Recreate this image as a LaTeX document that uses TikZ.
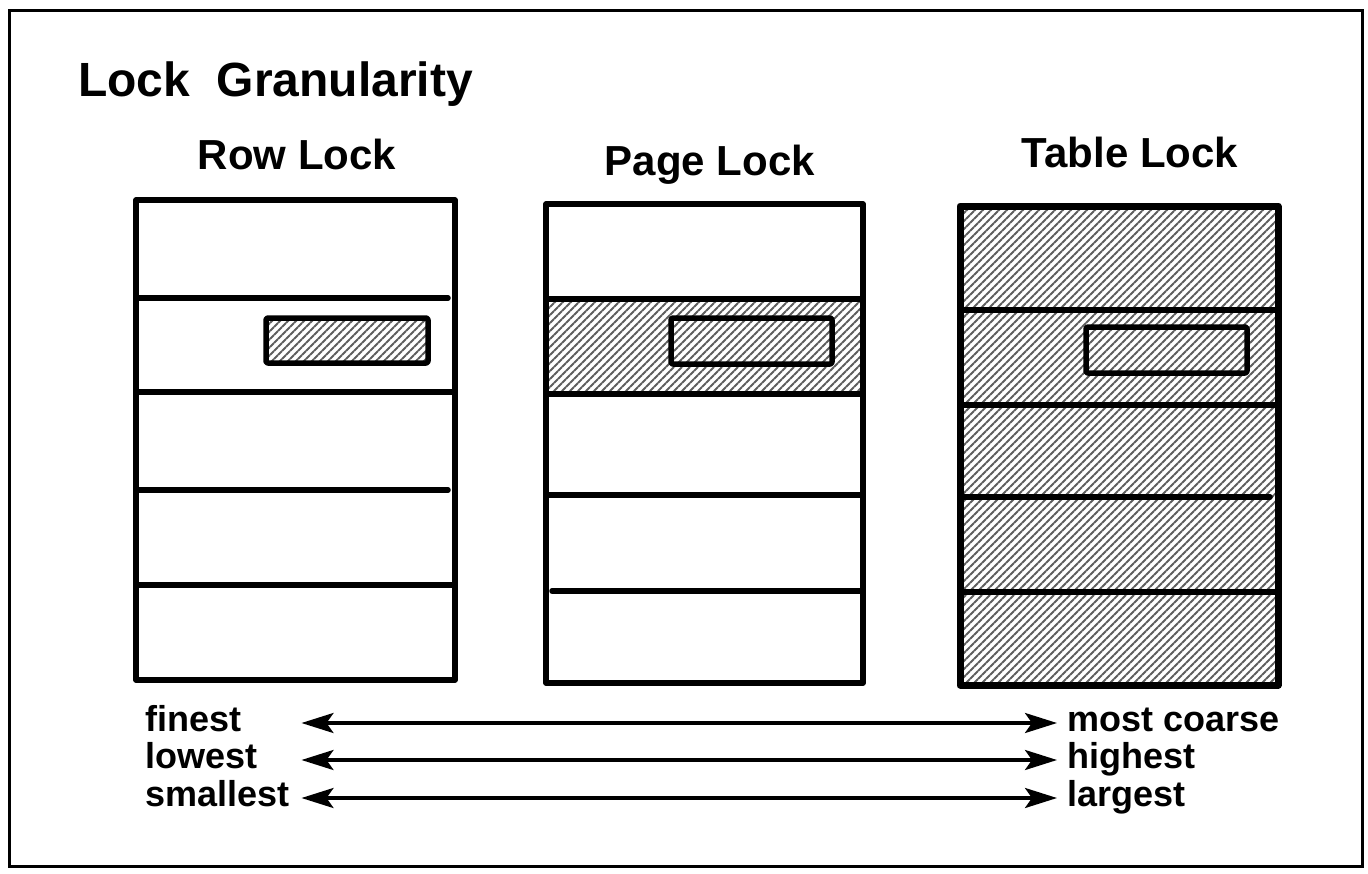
\documentclass[tikz,border=0pt]{standalone}
\usepackage{fontspec}
\setmainfont{Liberation Sans}
\usetikzlibrary{arrows.meta,patterns.meta}
\definecolor{ink}{HTML}{000000}
\definecolor{hatchgray}{HTML}{5E5E5E}

\tikzset{
  hatched/.style={pattern={Lines[angle=45,distance=5.657pt,line width=2pt]}, pattern color=hatchgray},
  boxline/.style={ink, line width=5.5pt, line cap=round, line join=round},
  heading/.style={anchor=base, inner sep=0pt, font=\fontsize{42}{46}\selectfont\bfseries},
  scalelabel/.style={anchor=base west, inner sep=0pt, text height=16pt, text depth=0pt, font=\fontsize{36}{40}\selectfont\bfseries},
  scalearrow/.style={ink, line width=3.5pt, {Stealth[length=32pt,width=20pt,inset=7pt]}-{Stealth[length=32pt,width=20pt,inset=7pt]}}
}

\begin{document}
\begin{tikzpicture}[x=1pt,y=-1pt]
  \useasboundingbox (0,0) rectangle (1368,873);
  \draw[ink, line width=3pt] (9,10) rectangle (1362,866);

  \node[anchor=base west, inner sep=0pt, font=\fontsize{48}{54}\selectfont\bfseries] (title) at (78,96) {Lock\ \ Granularity};

  % headings
  \node[heading] (rowhead) at (297,169) {Row Lock};
  \node[heading] (pagehead) at (710,175) {Page Lock};
  \node[heading] (tablehead) at (1130,167) {Table Lock};

  % row lock
  \draw[boxline] (136,200) rectangle (455,680);
  \foreach \y/\xe in {298/448, 392/455, 490/448, 585/455}
    \draw[boxline] (136,\y) -- (\xe,\y);
  \fill[hatched] (266,318) rectangle (428,363);
  \draw[boxline, rounded corners=2pt] (266,318) rectangle (428,363);

  % page lock
  \fill[hatched] (546,299) rectangle (863,394);
  \draw[boxline] (546,204) rectangle (863,683);
  \foreach \y/\xs in {299/546, 394/546, 495/546, 591/552}
    \draw[boxline] (\xs,\y) -- (863,\y);
  \draw[boxline, rounded corners=2pt] (671,318) rectangle (832,364);

  % table lock
  \fill[hatched] (960,206) rectangle (1278,685);
  \draw[boxline, line width=7pt] (960,206) rectangle (1278,685);
  \foreach \y/\xe in {310/1278, 405/1278, 497/1270, 592/1278}
    \draw[boxline] (960,\y) -- (\xe,\y);
  \draw[boxline, rounded corners=2pt] (1086,327) rectangle (1247,373);

  % scale
  \node[scalelabel] (finest) at (145,731) {finest};
  \node[scalelabel] (lowest) at (145,768) {lowest};
  \node[scalelabel] (smallest) at (145,806) {smallest};
  \node[scalelabel] (coarse) at (1067,731) {most coarse};
  \node[scalelabel] (highest) at (1067,768) {highest};
  \node[scalelabel] (largest) at (1067,806) {largest};

  \draw[scalearrow, shorten <=12pt, shorten >=10pt] (smallest.east |- finest.east) -- (coarse.west);
  \draw[scalearrow, shorten <=12pt, shorten >=10pt] (smallest.east |- lowest.east) -- (highest.west);
  \draw[scalearrow, shorten <=12pt, shorten >=10pt] (smallest.east) -- (largest.west);
\end{tikzpicture}
\end{document}
